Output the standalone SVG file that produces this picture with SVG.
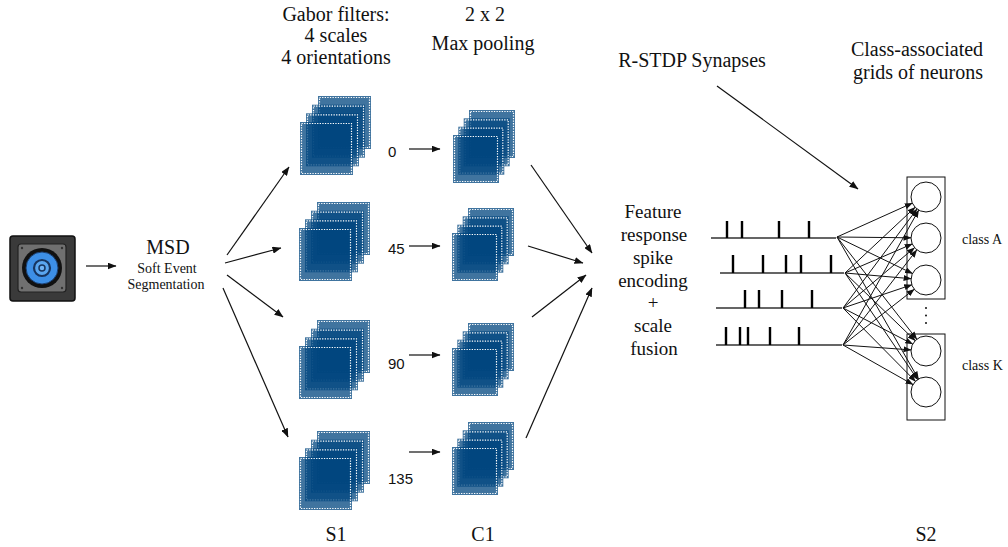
<svg xmlns="http://www.w3.org/2000/svg" xmlns:xlink="http://www.w3.org/1999/xlink" width="1008" height="547" viewBox="0 0 1008 547">
  <style>
    .serif { font-family: "Liberation Serif", "DejaVu Serif", serif; fill: #111; }
    .sans { font-family: "Liberation Sans", Arial, sans-serif; fill: #111; font-size: 15px; }
    .lbl { font-size: 20px; }
    .feat { font-size: 19px; }
    .sq { fill: #00467f; fill-opacity: 0.75; }
    .dot { fill: none; stroke: #fff; stroke-width: 1.2; stroke-dasharray: 1.3 1.3; }
    .arr { fill: none; stroke: #111; stroke-width: 1.2; marker-end: url(#ah); }
    .arrs { fill: none; stroke: #111; stroke-width: 1; marker-end: url(#ahs); }
    .base { fill: none; stroke: #333; stroke-width: 1.3; }
    .spike { fill: none; stroke: #000; stroke-width: 2.4; }
    .neuron { fill: #fff; stroke: #111; stroke-width: 1; }
    .grid { fill: #fff; stroke: #111; stroke-width: 1; }
  </style>
  <defs>
    <marker id="ah" markerWidth="9" markerHeight="7" refX="8.5" refY="3.5" orient="auto" markerUnits="userSpaceOnUse">
      <path d="M0,0 L9,3.5 L0,7 Z" fill="#111"/>
    </marker>
    <marker id="ahs" markerWidth="8" markerHeight="6" refX="7.5" refY="3" orient="auto" markerUnits="userSpaceOnUse">
      <path d="M0,0 L8,3 L0,6 Z" fill="#111"/>
    </marker>
    <!-- S1 feature-map stack: four 53px maps, back to front -->
    <g id="s1maps">
      <rect class="sq" x="18" y="-26" width="53" height="53"/><rect class="dot" x="19.5" y="-24.5" width="50" height="50"/>
      <rect class="sq" x="12" y="-17.3" width="53" height="53"/><rect class="dot" x="13.5" y="-15.8" width="50" height="50"/>
      <rect class="sq" x="6" y="-8.7" width="53" height="53"/><rect class="dot" x="7.5" y="-7.2" width="50" height="50"/>
      <rect class="sq" x="0" y="0" width="53" height="53"/><rect class="dot" x="1.5" y="1.5" width="50" height="50"/>
    </g>
    <!-- C1 pooled stack: four 46px maps -->
    <g id="c1maps">
      <rect class="sq" x="16" y="-25" width="46" height="48"/><rect class="dot" x="17.5" y="-23.5" width="43" height="45"/>
      <rect class="sq" x="10.7" y="-16.7" width="46" height="48"/><rect class="dot" x="12.2" y="-15.2" width="43" height="45"/>
      <rect class="sq" x="5.3" y="-8.3" width="46" height="48"/><rect class="dot" x="6.8" y="-6.8" width="43" height="45"/>
      <rect class="sq" x="0" y="0" width="46" height="48"/><rect class="dot" x="1.5" y="1.5" width="43" height="45"/>
    </g>
  </defs>

  <rect width="1008" height="547" fill="#fff"/>

  <!-- audio input -->
  <g id="speaker">
    <rect x="10" y="236" width="65" height="65" rx="3" fill="#3a3a3a" stroke="#111" stroke-width="1.5"/>
    <rect x="18" y="244" width="48" height="48" rx="3" fill="#707070" stroke="#222" stroke-width="1.2"/>
    <circle cx="22" cy="248" r="1.2" fill="#333"/>
    <circle cx="62" cy="248" r="1.2" fill="#333"/>
    <circle cx="22" cy="288" r="1.2" fill="#333"/>
    <circle cx="62" cy="288" r="1.2" fill="#333"/>
    <circle cx="42" cy="268" r="20" fill="#111"/>
    <circle cx="42" cy="268" r="16" fill="#3d8fe6" stroke="#1b3f70" stroke-width="1"/>
    <circle cx="42" cy="268" r="8" fill="#5aa6f0" stroke="#173560" stroke-width="2.2"/>
    <circle cx="42" cy="268" r="3" fill="#6fb3f5" stroke="#173560" stroke-width="1.5"/>
  </g>

  <g id="msd">
    <text class="serif" x="168" y="254" font-size="20" text-anchor="middle">MSD</text>
    <text class="serif" x="167" y="273" font-size="14" text-anchor="middle">Soft Event</text>
    <text class="serif" x="166" y="289" font-size="14" text-anchor="middle">Segmentation</text>
  </g>

  <g id="gabor-title">
    <text class="serif lbl" x="336" y="21" text-anchor="middle">Gabor filters:</text>
    <text class="serif lbl" x="336" y="42" text-anchor="middle">4 scales</text>
    <text class="serif lbl" x="336" y="64" text-anchor="middle">4 orientations</text>
  </g>
  <g id="pool-title">
    <text class="serif lbl" x="485" y="21" text-anchor="middle">2 x 2</text>
    <text class="serif lbl" x="483" y="50" text-anchor="middle">Max pooling</text>
  </g>

  <!-- S1 stacks -->
  <g id="s1-0"><use xlink:href="#s1maps" transform="translate(300,122)"/></g>
  <g id="s1-45"><use xlink:href="#s1maps" transform="translate(299,228)"/></g>
  <g id="s1-90"><use xlink:href="#s1maps" transform="translate(299,346)"/></g>
  <g id="s1-135"><use xlink:href="#s1maps" transform="translate(299,457)"/></g>

  <!-- C1 stacks -->
  <g id="c1-0"><use xlink:href="#c1maps" transform="translate(453,135)"/></g>
  <g id="c1-45"><use xlink:href="#c1maps" transform="translate(452,233)"/></g>
  <g id="c1-90"><use xlink:href="#c1maps" transform="translate(452,348)"/></g>
  <g id="c1-135"><use xlink:href="#c1maps" transform="translate(452,447)"/></g>

  <g id="orientations">
    <text class="sans" x="388" y="157">0</text>
    <text class="sans" x="388" y="254">45</text>
    <text class="sans" x="388" y="369">90</text>
    <text class="sans" x="388" y="484">135</text>
  </g>

  <g id="features">
    <text class="serif feat" text-anchor="middle" x="653" y="218">Feature</text>
    <text class="serif feat" text-anchor="middle" x="654" y="241">response</text>
    <text class="serif feat" text-anchor="middle" x="653" y="264">spike</text>
    <text class="serif feat" text-anchor="middle" x="653" y="287">encoding</text>
    <text class="serif feat" text-anchor="middle" x="653" y="309">+</text>
    <text class="serif feat" text-anchor="middle" x="653" y="332">scale</text>
    <text class="serif feat" text-anchor="middle" x="654" y="355">fusion</text>
  </g>

  <g id="rstdp-label">
    <text class="serif lbl" x="692" y="67" text-anchor="middle">R-STDP Synapses</text>
  </g>
  <g id="s2-title">
    <text class="serif lbl" x="917" y="56" text-anchor="middle">Class-associated</text>
    <text class="serif lbl" x="918" y="79" text-anchor="middle">grids of neurons</text>
  </g>

  <!-- spike trains -->
  <g id="spike-trains">
    <path class="base" d="M711,238 H836 M720,273 H844 M716,308 H842 M716,345 H842"/>
    <path class="spike" d="M727,221V238 M742,221V238 M779,221V238 M809,221V238
      M733,255V273 M763,255V273 M786,255V273 M801,255V273 M831,255V273
      M745,290V308 M759,290V308 M782,290V308 M812,290V308
      M726,327V345 M740,327V345 M748,327V345 M770,327V345 M799,327V345"/>
  </g>

  <!-- S2 class grids -->
  <g id="class-a">
    <rect class="grid" x="907" y="177" width="38" height="122"/>
    <circle class="neuron" cx="926" cy="197" r="15"/>
    <circle class="neuron" cx="926" cy="238" r="15"/>
    <circle class="neuron" cx="926" cy="280" r="15"/>
    <text class="serif" x="962" y="244" font-size="14">class A</text>
  </g>
  <g id="class-dots">
    <circle cx="926" cy="308" r="1" fill="#111"/>
    <circle cx="926" cy="315.5" r="1" fill="#111"/>
    <circle cx="926" cy="323" r="1" fill="#111"/>
  </g>
  <g id="class-k">
    <rect class="grid" x="907" y="334" width="38" height="86"/>
    <circle class="neuron" cx="926" cy="351" r="15"/>
    <circle class="neuron" cx="926" cy="392" r="15"/>
    <text class="serif" x="962" y="370" font-size="14">class K</text>
  </g>

  <g id="layer-names">
    <text class="serif lbl" x="336" y="541" text-anchor="middle">S1</text>
    <text class="serif lbl" x="483" y="541" text-anchor="middle">C1</text>
    <text class="serif lbl" x="926" y="541" text-anchor="middle">S2</text>
  </g>

  <!-- connectors -->
  <g id="connectors">
    <path class="arr" d="M86,266 H116"/>
    <path class="arr" d="M227,255 L289,167"/>
    <path class="arr" d="M225,263 L281,248"/>
    <path class="arr" d="M227,275 L283,317"/>
    <path class="arr" d="M223,288 L288,437"/>
    <path class="arr" d="M409,149 H440"/>
    <path class="arr" d="M409,246 H440"/>
    <path class="arr" d="M409,355 H440"/>
    <path class="arr" d="M409,452 H440"/>
    <path class="arr" d="M531,165 L592,253"/>
    <path class="arr" d="M528,246 L583,263"/>
    <path class="arr" d="M532,317 L586,275"/>
    <path class="arr" d="M526,438 L592,288"/>
    <path class="arr" d="M717,86 L858,189"/>
    <!-- all-to-all plastic synapses onto S2 -->
    <path class="arrs" d="M837,237 L912.3,203.1"/>
    <path class="arrs" d="M837,237 L911,237.8"/>
    <path class="arrs" d="M837,237 L912.5,273.5"/>
    <path class="arrs" d="M837,237 L916.8,339.2"/>
    <path class="arrs" d="M837,237 L918.5,379"/>
    <path class="arrs" d="M845,273 L915.1,207.3"/>
    <path class="arrs" d="M845,273 L912.2,244"/>
    <path class="arrs" d="M845,273 L911.1,278.7"/>
    <path class="arrs" d="M845,273 L915.2,340.6"/>
    <path class="arrs" d="M845,273 L917.6,379.6"/>
    <path class="arrs" d="M843,308 L917,209"/>
    <path class="arrs" d="M843,308 L914.5,247.7"/>
    <path class="arrs" d="M843,308 L911.8,284.8"/>
    <path class="arrs" d="M843,308 L912.7,344.1"/>
    <path class="arrs" d="M843,308 L915.5,381.3"/>
    <path class="arrs" d="M843,345 L918.7,210.1"/>
    <path class="arrs" d="M843,345 L916.8,249.9"/>
    <path class="arrs" d="M843,345 L914.2,289.3"/>
    <path class="arrs" d="M843,345 L911,349.9"/>
    <path class="arrs" d="M843,345 L913,384.6"/>
  </g>
</svg>
